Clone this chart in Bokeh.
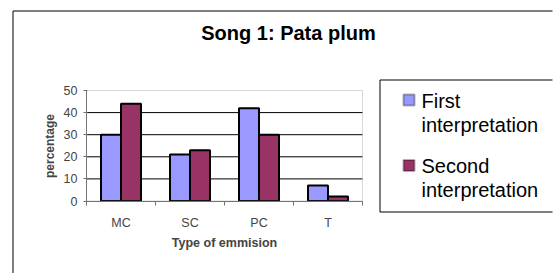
import numpy as np
from bokeh.plotting import figure
from bokeh.models import (ColumnDataSource, FixedTicker, Label, BoxAnnotation)
from bokeh.transform import dodge
from bokeh.embed import file_html
from bokeh.resources import INLINE

# ---- data ----
categories = ["MC", "SC", "PC", "T"]
first_interpretation = [30, 21, 42, 7]
second_interpretation = [44, 23, 30, 2]
series_names = ["First\ninterpretation", "Second\ninterpretation"]
series_colors = ["#9999FF", "#993366"]
y_ticks = [0, 10, 20, 30, 40, 50]
title_text = "Song 1: Pata plum"
x_label = "Type of emmision"
y_label = "percentage"

FONT = "Liberation Sans"
W, H = 553, 273
# plot-area placement in canvas pixels
PL, PR, PT, PB = 86, 362, 90, 200.5

n = len(categories)
ymax = y_ticks[-1]
centers = list(np.arange(n) + 0.5)
bounds = list(np.arange(n + 1).astype(float))

xs_per_px = n / (PR - PL)
ys_per_px = ymax / (PB - PT)
x_start = -PL * xs_per_px
x_end = n + (W - PR) * xs_per_px
y_start = -(H - PB) * ys_per_px
y_end = ymax + PT * ys_per_px


def px2x(px):
    return x_start + px * xs_per_px


def py2y(py):
    return y_end - py * ys_per_px


src = ColumnDataSource(dict(x=centers, a=first_interpretation, b=second_interpretation))

p = figure(width=W, height=H, output_backend="svg", toolbar_location=None,
           x_range=(x_start, x_end), y_range=(y_start, y_end), min_border=0)
p.background_fill_color = "white"
p.border_fill_color = "white"
p.outline_line_color = None
p.xgrid.visible = False
p.ygrid.visible = False

# outer chart frame: left and top edges (the rest lies beyond the window)
p.line(x=[px2x(12.5), px2x(12.5), px2x(W - 1)], y=[py2y(H), py2y(10.5), py2y(10.5)],
       line_color="black", line_width=1, line_join="miter", line_cap="butt")

# legend box: left, top and bottom edges (its right edge lies beyond the window)
p.line(x=[px2x(W - 1), px2x(379.5), px2x(379.5), px2x(W - 1)],
       y=[py2y(79.5), py2y(79.5), py2y(211.5), py2y(211.5)],
       line_color="black", line_width=1, line_join="miter", line_cap="butt")

# horizontal grid lines inside the plot area
grid_src = ColumnDataSource(dict(y=y_ticks[1:-1], x0=[0] * (len(y_ticks) - 2),
                                 x1=[n] * (len(y_ticks) - 2)))
p.segment(x0="x0", x1="x1", y0="y", y1="y", source=grid_src,
          line_color="black", line_width=1)

r1 = p.vbar(x=dodge("x", -0.145, range=p.x_range), top="a", width=0.29, source=src,
            fill_color=series_colors[0], line_color="black", line_width=2)
r2 = p.vbar(x=dodge("x", 0.145, range=p.x_range), top="b", width=0.29, source=src,
            fill_color=series_colors[1], line_color="black", line_width=2)

# plot area border (top / right in gray)
p.add_layout(BoxAnnotation(left=0, right=n, bottom=0, top=ymax,
                           fill_color=None, line_color="#808080", line_width=1))

# y axis
ya = p.yaxis[0]
ya.fixed_location = 0
ya.bounds = (0, ymax)
ya.ticker = FixedTicker(ticks=y_ticks)
ya.axis_line_color = "#707070"
ya.major_tick_line_color = "#707070"
ya.major_tick_out = 3
ya.major_tick_in = 1
ya.minor_tick_line_color = None
ya.major_label_text_font = FONT
ya.major_label_text_font_size = "12.5px"
ya.major_label_standoff = 6
ya.axis_label = y_label
ya.axis_label_text_font = FONT
ya.axis_label_text_font_size = "12px"
ya.axis_label_text_font_style = "bold"
ya.axis_label_standoff = 4

# x axis
xa = p.xaxis[0]
xa.fixed_location = 0
xa.bounds = (0, n)
xa.ticker = FixedTicker(ticks=centers, minor_ticks=bounds)
xa.major_label_overrides = {c: nm for c, nm in zip(centers, categories)}
xa.axis_line_color = "#707070"
xa.major_tick_line_color = None
xa.major_tick_out = 4
xa.minor_tick_line_color = "#707070"
xa.minor_tick_out = 4
xa.minor_tick_in = 0
xa.major_label_text_font = FONT
xa.major_label_text_font_size = "12.5px"
xa.major_label_standoff = 11
xa.axis_label = x_label
xa.axis_label_text_font = FONT
xa.axis_label_text_font_size = "12.5px"
xa.axis_label_text_font_style = "bold"
xa.axis_label_standoff = 2

# title
p.add_layout(Label(x=288, y=H - 21, x_units="screen", y_units="screen",
                   text=title_text, text_align="center", text_baseline="top",
                   text_font=FONT, text_font_size="20px", text_font_style="bold",
                   text_color="black"))

# legend entries
item_tops = [94, 159.5]
for name, color, top in zip(series_names, series_colors, item_tops):
    p.add_layout(BoxAnnotation(left=403, right=414, top=H - top, bottom=H - top - 11,
                               left_units="screen", right_units="screen",
                               top_units="screen", bottom_units="screen",
                               fill_color=color, fill_alpha=1, line_color="black",
                               line_width=2))
    p.add_layout(Label(x=421, y=H - (top - 5), x_units="screen", y_units="screen",
                       text=name, text_align="left", text_baseline="top",
                       text_font=FONT, text_font_size="20px", text_line_height=1.1,
                       text_color="black"))

open("out.html", "w").write(file_html(p, INLINE))
